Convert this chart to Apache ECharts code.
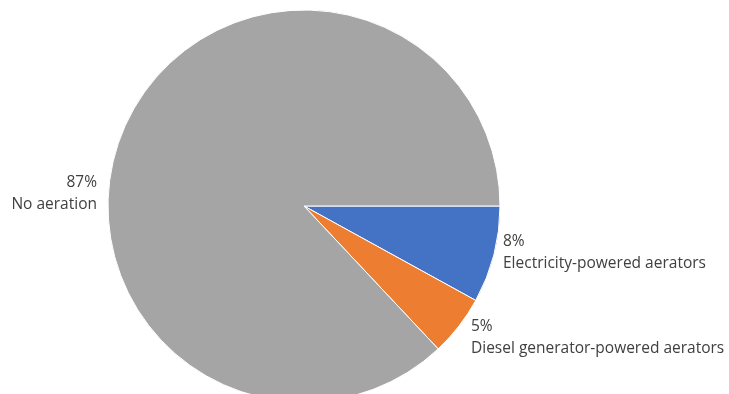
<!DOCTYPE html>
<html>
<head>
<meta charset="utf-8">
<script src="https://cdn.jsdelivr.net/npm/echarts@6/dist/echarts.min.js"></script>
<style>
  html, body { margin: 0; padding: 0; background: #fff; }
  #chart { width: 729px; height: 394px; }
</style>
</head>
<body>
<div id="chart"></div>
<script>
// data
const categories = ['Electricity-powered aerators', 'Diesel generator-powered aerators', 'No aeration']
const shares = [8, 5, 87]
const colors = ['#4472C4', '#ED7D31', '#A5A5A5']

// where each label sits (x, y, text alignment)
const labelSpots = [
  {x: 503, y: 253, align: 'left'},
  {x: 471, y: 338, align: 'left'},
  {x: 97, y: 194, align: 'right'},
]

const chart = echarts.init(document.getElementById('chart'))

chart.setOption({
  animation: false,
  series: [{
    type: 'pie',
    center: [304, 206],
    radius: 196,
    startAngle: 0,
    clockwise: true,
    data: categories.map((name, i) => ({
      name: name,
      value: shares[i],
      itemStyle: {color: colors[i]},
      label: {align: labelSpots[i].align},
    })),
    itemStyle: {borderColor: '#fff', borderWidth: 1},
    label: {
      show: true,
      position: 'outside',
      formatter: '{c}%\n{b}',
      color: '#404040',
      fontFamily: 'Open Sans',
      fontSize: 15.5,
      lineHeight: 22,
      overflow: 'none',
      width: 400,
    },
    labelLine: {show: false},
    labelLayout: params => {
      const s = labelSpots[params.dataIndex]
      return {x: s.x, y: s.y, align: s.align, verticalAlign: 'middle'}
    },
  }],
})
</script>
</body>
</html>
